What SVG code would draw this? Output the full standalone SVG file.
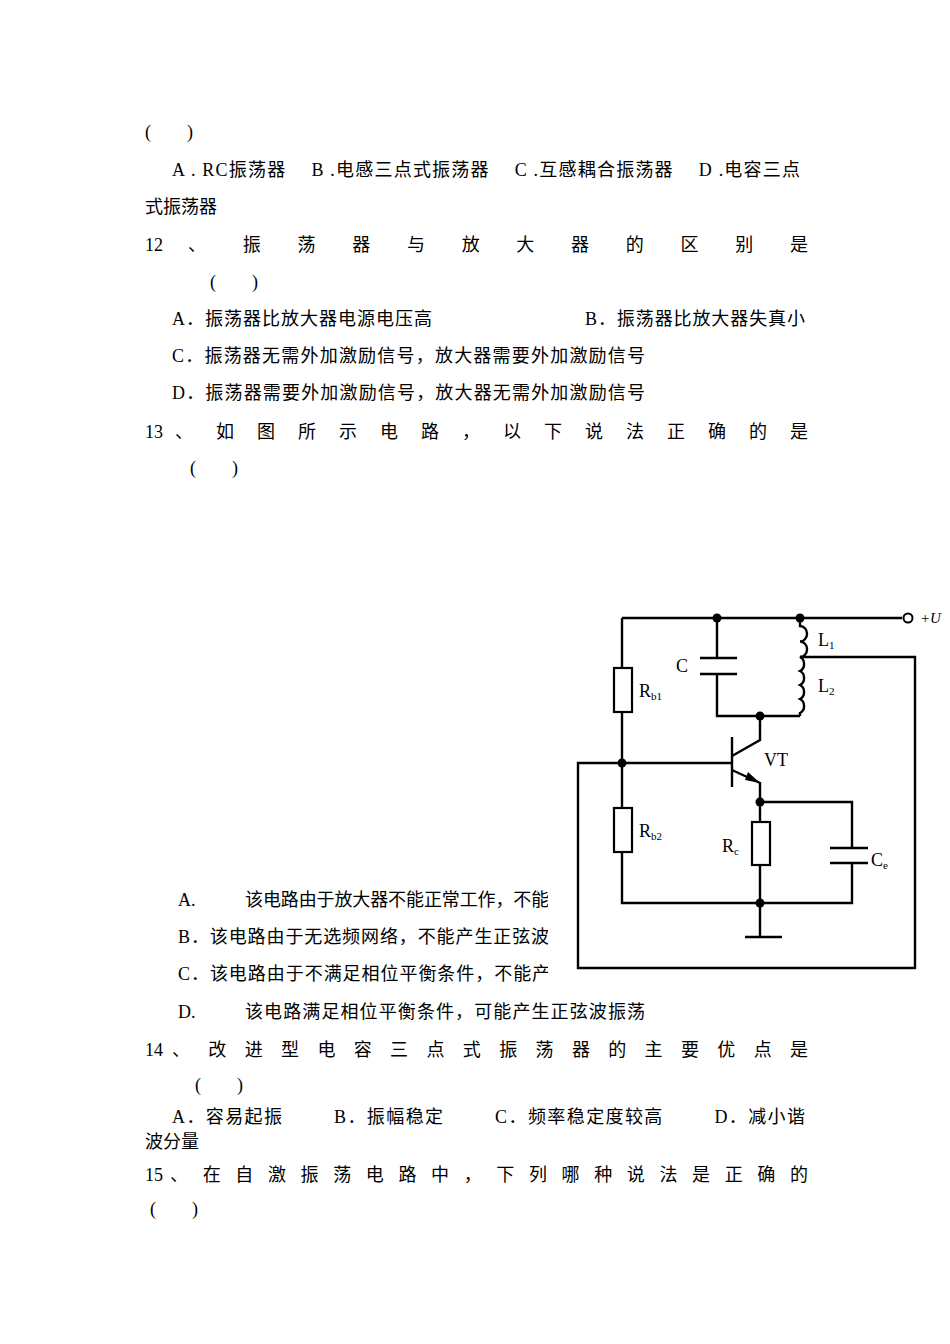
<svg xmlns="http://www.w3.org/2000/svg" width="950" height="1344" viewBox="0 0 950 1344">
<style>
text{font-family:"Liberation Serif","Noto Sans CJK SC",serif;font-size:18px;fill:#000;white-space:pre}
.w{fill:none;stroke:#000;stroke-width:2.4}
.lb{font-family:"Liberation Serif",serif;font-size:18px}
.s{font-size:11px}
</style>
<rect width="950" height="1344" fill="#fff"/>
<g id="text">
<text x="145" y="138">(        )</text>
<text x="172" y="176" textLength="628" lengthAdjust="spacing">A . RC振荡器　 B .电感三点式振荡器　 C .互感耦合振荡器　 D .电容三点</text>
<text x="145" y="213">式振荡器</text>
<text x="145" y="251">12</text>
<text x="188" y="251" textLength="620" lengthAdjust="spacing">、振荡器与放大器的区别是</text>
<text x="210" y="288">(        )</text>
<text x="172" y="325" textLength="260" lengthAdjust="spacing">A．振荡器比放大器电源电压高</text>
<text x="585" y="325" textLength="220" lengthAdjust="spacing">B．振荡器比放大器失真小</text>
<text x="172" y="362" textLength="473" lengthAdjust="spacing">C．振荡器无需外加激励信号，放大器需要外加激励信号</text>
<text x="172" y="399" textLength="473" lengthAdjust="spacing">D．振荡器需要外加激励信号，放大器无需外加激励信号</text>
<text x="145" y="438">13</text>
<text x="175" y="438" textLength="633" lengthAdjust="spacing">、如图所示电路，以下说法正确的是</text>
<text x="190" y="474">(        )</text>
<text x="178" y="906">A.</text>
<text x="245" y="906" textLength="340" lengthAdjust="spacing">该电路由于放大器不能正常工作，不能产生</text>
<text x="178" y="943" textLength="390" lengthAdjust="spacing">B．该电路由于无选频网络，不能产生正弦波振</text>
<text x="178" y="980" textLength="410" lengthAdjust="spacing">C．该电路由于不满足相位平衡条件，不能产生正</text>
<text x="178" y="1018">D.</text>
<text x="245" y="1018" textLength="400" lengthAdjust="spacing">该电路满足相位平衡条件，可能产生正弦波振荡</text>
<text x="145" y="1056">14</text>
<text x="172" y="1056" textLength="636" lengthAdjust="spacing">、改进型电容三点式振荡器的主要优点是</text>
<text x="195" y="1091">(        )</text>
<text x="172" y="1123" textLength="633" lengthAdjust="spacing">A．容易起振　　  B．振幅稳定　　  C．频率稳定度较高　　  D．减小谐</text>
<text x="145" y="1148">波分量</text>
<text x="145" y="1181">15</text>
<text x="170" y="1181" textLength="638" lengthAdjust="spacing">、在自激振荡电路中，下列哪种说法是正确的</text>
<text x="150" y="1215">(        )</text>
</g>
<rect x="548" y="595" width="402" height="393" fill="#fff"/>
<g id="connectors" class="w">
<path d="M622 618H902"/>
<path d="M622 618V668M622 712V808M622 852V903H852V863M852 848V802H760"/>
<path d="M717 618V658M717 674V716H800"/>
<path d="M800 618V626 a7 7.7 0 0 1 0 15.5 a7 7.7 0 0 1 0 15.5 a7 7.7 0 0 1 0 14 a7 7.7 0 0 1 0 14 a7 7.7 0 0 1 0 14 a7 7.7 0 0 1 0 14 V716"/>
<path d="M800 657H915V968H578V763H732"/>
<path d="M760 716V740L732 756"/>
<path d="M732 770L760 783V802M760 802V822M760 865V937"/>
</g>
<g id="components">
<rect x="614" y="668" width="18" height="44" fill="#fff" stroke="#000" stroke-width="2.2"/>
<rect x="614" y="808" width="18" height="44" fill="#fff" stroke="#000" stroke-width="2.2"/>
<rect x="752" y="822" width="18" height="43" fill="#fff" stroke="#000" stroke-width="2.2"/>
<path class="w" d="M700 658H737M700 674H737M830 848H868M830 863H868M745 937H782M732 737V787" stroke-width="3"/>
<path d="M760 783L748 772L745 780Z"/>
<circle cx="717" cy="618" r="4.5"/><circle cx="800" cy="618" r="4.5"/>
<circle cx="760" cy="716" r="4.5"/><circle cx="622" cy="763" r="4.5"/>
<circle cx="760" cy="802" r="4.5"/><circle cx="760" cy="903" r="4.5"/>
<circle cx="908" cy="618" r="4.5" fill="#fff" stroke="#000" stroke-width="2"/>
<text class="lb" x="676" y="672">C</text>
<text class="lb" x="639" y="697">R<tspan class="s" dy="3">b1</tspan></text>
<text class="lb" x="818" y="646">L<tspan class="s" dy="3">1</tspan></text>
<text class="lb" x="818" y="692">L<tspan class="s" dy="3">2</tspan></text>
<text class="lb" x="764" y="766">VT</text>
<text class="lb" x="639" y="837">R<tspan class="s" dy="3">b2</tspan></text>
<text class="lb" x="722" y="852">R<tspan class="s" dy="3">c</tspan></text>
<text class="lb" x="871" y="866">C<tspan class="s" dy="3">e</tspan></text>
<text class="lb" x="920" y="623" style="font-style:italic;font-size:15px">+U</text>
</g>
</svg>
